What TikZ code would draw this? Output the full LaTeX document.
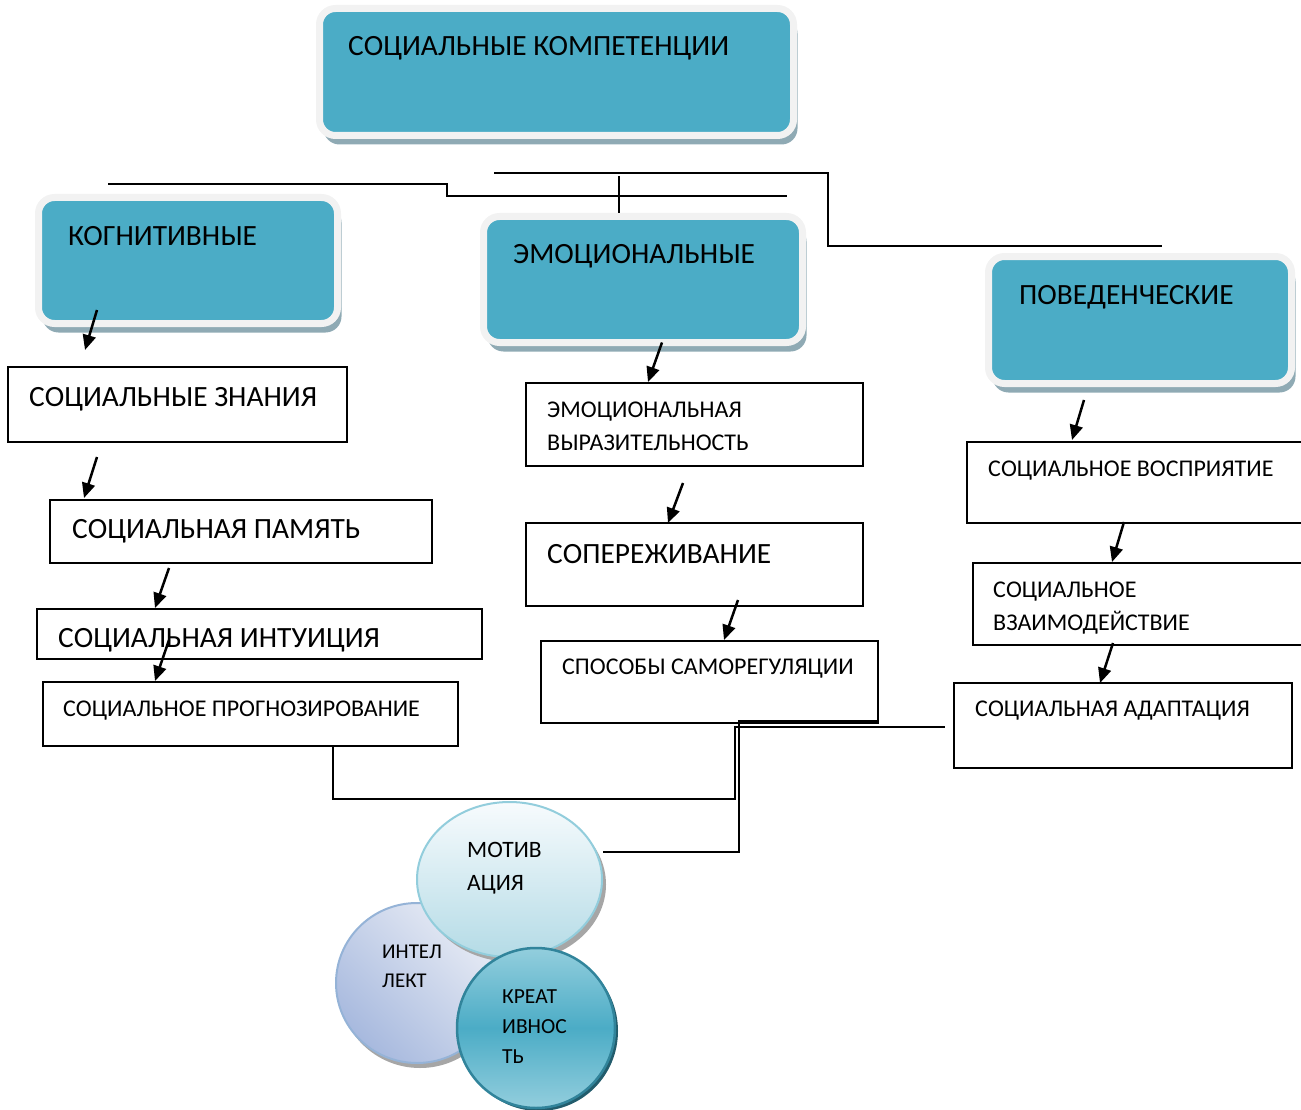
\documentclass[tikz,border=0pt]{standalone}
\usepackage{fontspec}
\setmainfont{Carlito}
\usetikzlibrary{arrows.meta, shapes.geometric, shadows}

\definecolor{tealfill}{HTML}{4BACC6}
\definecolor{tealrim}{HTML}{F2F2F2}
\definecolor{tealshade}{HTML}{8FAAB4}
\definecolor{motivtop}{HTML}{F7FBFD}
\definecolor{motivbot}{HTML}{B4DBE6}
\definecolor{motivrim}{HTML}{92CDDC}
\definecolor{inteltop}{HTML}{E8ECF5}
\definecolor{intelbot}{HTML}{A7B9DE}
\definecolor{intelrim}{HTML}{95B3D7}
\definecolor{kreatlight}{HTML}{93CEDD}
\definecolor{kreatmid}{HTML}{4BACC6}
\definecolor{kreatrim}{HTML}{31849B}

\begin{document}
\begin{tikzpicture}[x=1pt, y=-1pt,
		category/.style = {draw=tealrim, line width=7pt, fill=tealfill, rounded corners=16pt, outer sep=0pt, inner sep=0pt, anchor=north west,
			drop shadow={shadow xshift=4pt, shadow yshift=-9pt, fill=tealshade, opacity=1}},
		item/.style = {draw, line width=2pt, outer sep=0pt, inner sep=0pt, anchor=north west},
		big/.style = {anchor=base west, inner sep=0pt, font=\fontsize{29.4}{33}\selectfont},
		small/.style = {anchor=base west, inner sep=0pt, align=left, font=\fontsize{24}{33}\selectfont},
		bubble/.style = {ellipse, line width=2pt, inner sep=0pt},
		arr/.style = {line width=2.5pt, -{Triangle[length=15pt, width=13pt]}},
		conn/.style = {line width=2pt}
		]
		\useasboundingbox (0,0) rectangle (1301,1110);
		
		% Категории
		\node[category, minimum width=474pt, minimum height=127pt] (komp) at (319.5,8.5) {};
		\node[category, minimum width=299pt, minimum height=126pt] (kog) at (38.5,197.5) {};
		\node[category, minimum width=319pt, minimum height=126pt] (emo) at (483.5,216.5) {};
		\node[category, minimum width=303pt, minimum height=127pt] (pov) at (988.5,256.5) {};
		
		\node[big] (kompT) at (348,56) {СОЦИАЛЬНЫЕ КОМПЕТЕНЦИИ};
		\node[big] (kogT) at (68,245) {КОГНИТИВНЫЕ};
		\node[big] (emoT) at (513,263) {ЭМОЦИОНАЛЬНЫЕ};
		\node[big] (povT) at (1019,304) {ПОВЕДЕНЧЕСКИЕ};
		
		% Блоки
		\node[item, minimum width=339pt, minimum height=75pt] (znan) at (8,367) {};
		\node[item, minimum width=382pt, minimum height=63pt] (pam) at (50,500) {};
		\node[item, minimum width=445pt, minimum height=50pt] (intu) at (37,609) {};
		\node[item, minimum width=415pt, minimum height=64pt] (prog) at (43,682) {};
		\node[item, minimum width=337pt, minimum height=83pt] (vyr) at (526,383) {};
		\node[item, minimum width=337pt, minimum height=83pt] (sop) at (526,523) {};
		\node[item, minimum width=337pt, minimum height=82pt] (spos) at (541,641) {};
		\node[item, minimum width=343pt, minimum height=81pt] (vosp) at (967,442) {};
		\node[item, minimum width=337pt, minimum height=82pt] (vzai) at (973,563) {};
		\node[item, minimum width=338pt, minimum height=85pt] (adap) at (954,683) {};
		
		\node[big] (znanT) at (29,406) {СОЦИАЛЬНЫЕ ЗНАНИЯ};
		\node[big] (pamT) at (72,538) {СОЦИАЛЬНАЯ ПАМЯТЬ};
		\node[big] (intuT) at (58,647) {СОЦИАЛЬНАЯ ИНТУИЦИЯ};
		\node[small] (progT) at (63,716) {СОЦИАЛЬНОЕ ПРОГНОЗИРОВАНИЕ};
		\node[small] (vyrT) at (547,450) {ЭМОЦИОНАЛЬНАЯ\\ВЫРАЗИТЕЛЬНОСТЬ};
		\node[big] (sopT) at (547,563) {СОПЕРЕЖИВАНИЕ};
		\node[small] (sposT) at (562,674) {СПОСОБЫ САМОРЕГУЛЯЦИИ};
		\node[small] (vospT) at (988,476) {СОЦИАЛЬНОЕ ВОСПРИЯТИЕ};
		\node[small] (vzaiT) at (993,630) {СОЦИАЛЬНОЕ\\ВЗАИМОДЕЙСТВИЕ};
		\node[small] (adapT) at (975,716) {СОЦИАЛЬНАЯ АДАПТАЦИЯ};
		
		% Круги
		\node[bubble, draw=intelrim, top color=inteltop, bottom color=intelbot, shading angle=-45, minimum width=162pt, minimum height=160pt,
			drop shadow={shadow xshift=3pt, shadow yshift=-5pt, fill=black!35, opacity=1}] (intel) at (417,983) {};
		\node[bubble, draw=motivrim, top color=motivtop, bottom color=motivbot, minimum width=185pt, minimum height=155pt,
			drop shadow={shadow xshift=4pt, shadow yshift=-5pt, fill=black!35, opacity=1}] (motiv) at (509.5,879.5) {};
		\node[bubble, draw=kreatrim, line width=2.5pt, top color=kreatlight, bottom color=kreatlight, middle color=kreatmid, minimum width=158pt, minimum height=160pt,
			drop shadow={shadow xshift=3pt, shadow yshift=-3pt, fill=kreatrim!70!black, opacity=1}] (kreat) at (536,1028) {};
		
		\node[small, font=\fontsize{23.5}{33}\selectfont] (motivT) at (467,890) {МОТИВ\\АЦИЯ};
		\node[small, font=\fontsize{21}{29}\selectfont] (intelT) at (382,987) {ИНТЕЛ\\ЛЕКТ};
		\node[small, font=\fontsize{21.5}{30}\selectfont] (kreatT) at (502,1063) {КРЕАТ\\ИВНОС\\ТЬ};
		
		% Стрелки
		\draw[arr] ([xshift=58.5pt, yshift=13.5pt]kog.south west) -- ([xshift=77pt, yshift=17pt]znan.north west);
		\draw[arr] ([xshift=89pt, yshift=-15pt]znan.south west) -- ([xshift=34pt, yshift=2pt]pam.north west);
		\draw[arr] ([xshift=119pt, yshift=-5pt]pam.south west) -- ([xshift=118pt, yshift=1pt]intu.north west);
		\draw[arr] ([xshift=132pt, yshift=19pt]intu.south west) -- ([xshift=112pt, yshift=1pt]prog.north west);
		\draw[arr] ([xshift=178.5pt]emo.south west) -- ([xshift=122pt, yshift=1pt]vyr.north west);
		\draw[arr] ([xshift=157pt, yshift=-17pt]vyr.south west) -- ([xshift=142pt]sop.north west);
		\draw[arr] ([xshift=212pt, yshift=6pt]sop.south west) -- ([xshift=183pt, yshift=1pt]spos.north west);
		\draw[arr] ([xshift=95.5pt, yshift=-16.5pt]pov.south west) -- ([xshift=105pt, yshift=2pt]vosp.north west);
		\draw[arr] ([xshift=157pt, yshift=1pt]vosp.south west) -- ([xshift=139pt, yshift=1pt]vzai.north west);
		\draw[arr] ([xshift=140pt, yshift=2pt]vzai.south west) -- ([xshift=146pt]adap.north west);
		
		% Линии
		\coordinate (kogL) at (108,184);
		\coordinate (kogStep) at (447,196);
		\coordinate (kogR) at (787,196);
		\coordinate (emoTop) at (619,176);
		\coordinate (povL) at (494,173);
		\coordinate (povStep) at (828,246);
		\coordinate (povR) at (1162,246);
		\coordinate (progBend) at (735,799);
		\coordinate (adapIn) at ([xshift=-9pt, yshift=-1.5pt]adap.west);
		\coordinate (sposIn) at ([yshift=2pt]spos.south east);
		
		\draw[conn] (kogL) -| (kogStep) -- (kogR);
		\draw[conn, shorten >=3pt] (emoTop) -- (emoTop |- emo.north);
		\draw[conn] (povL) -| (povStep) -- (povR);
		\draw[conn] ([xshift=290pt]prog.south west) |- (progBend) |- (adapIn);
		\draw[conn] ([yshift=28pt]motiv.east) -| ([xshift=-139pt]sposIn) -- (sposIn);
	\end{tikzpicture}
\end{document}
